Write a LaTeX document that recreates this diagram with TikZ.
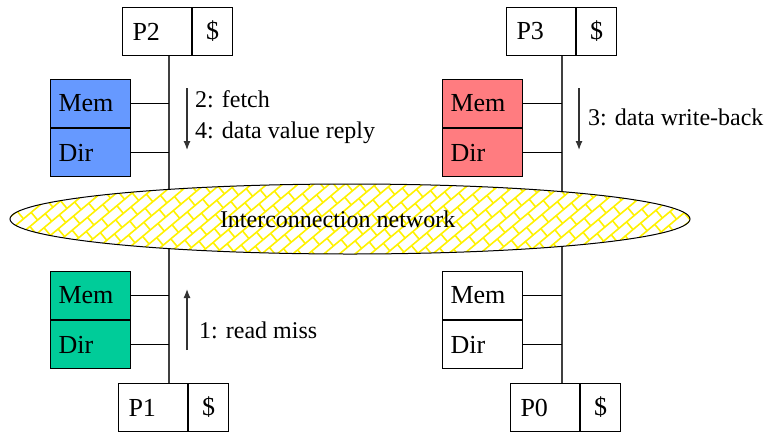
\documentclass[tikz,border=0pt]{standalone}
\usepackage{fontspec}
\setmainfont{Liberation Serif}
\usetikzlibrary{positioning}
\usetikzlibrary{arrows.meta}
\usetikzlibrary{shapes.geometric}
\definecolor{memblue}{HTML}{6699FF}
\definecolor{memred}{HTML}{FF7C80}
\definecolor{memgreen}{HTML}{00CC99}
\definecolor{busgray}{HTML}{404040}

\begin{document}
\begin{tikzpicture}[x=1pt,y=-1pt,
  box/.style={draw, line width=1pt, anchor=north west, minimum height=48pt,
    inner ysep=0pt, font=\fontsize{26}{30}\selectfont},
  membox/.style={box, text width=64pt, inner xsep=8pt, align=left},
  procbox/.style={box, text width=49pt, inner xsep=10pt, align=left},
  cachebox/.style={box, text width=40pt, inner xsep=0pt, align=center},
  bus/.style={draw=busgray, line width=1.5pt},
  link/.style={draw, line width=1pt},
  flow/.style={-{Latex[length=9pt,width=7pt]}, line width=1.2pt, black!80},
  lbl/.style={anchor=west, inner sep=0pt, font=\fontsize{24}{28}\selectfont},
  network/.style={ellipse, draw, line width=1pt,
    minimum width=680pt, minimum height=70pt, inner sep=0pt,
    font=\fontsize{24}{28}\selectfont},
]
\useasboundingbox (0,0) rectangle (765,432);

% processors with caches
\node[procbox] (p2) at (122,7) {P2};
\node[cachebox, right=0pt of p2] (c2) {\$};
\node[procbox] (p3) at (506,7) {P3};
\node[cachebox, right=0pt of p3] (c3) {\$};
\node[procbox] (p1) at (118,383) {P1};
\node[cachebox, right=0pt of p1] (c1) {\$};
\node[procbox] (p0) at (510,383) {P0};
\node[cachebox, right=0pt of p0] (c0) {\$};

% memories and directories
\node[membox, fill=memblue] (mem2) at (50,79) {Mem};
\node[membox, fill=memblue, below=0pt of mem2] (dir2) {Dir};
\node[membox, fill=memred] (mem3) at (442,79) {Mem};
\node[membox, fill=memred, below=0pt of mem3] (dir3) {Dir};
\node[membox, fill=memgreen] (mem1) at (50,271) {Mem};
\node[membox, fill=memgreen, below=0pt of mem1] (dir1) {Dir};
\node[membox] (mem0) at (442,271) {Mem};
\node[membox, below=0pt of mem0] (dir0) {Dir};

% buses
\coordinate (busL) at (169,0);
\coordinate (busR) at (562,0);
\draw[bus] (p2.south -| busL) -- (p1.north -| busL);
\draw[bus] (p3.south -| busR) -- (p0.north -| busR);
\foreach \m in {mem2,dir2,mem1,dir1}
  \draw[link] (\m.east) -- (\m.east -| busL);
\foreach \m in {mem3,dir3,mem0,dir0}
  \draw[link] (\m.east) -- (\m.east -| busR);

% network, brick pattern
\coordinate (netc) at (350,219);
\begin{scope}
  \clip (netc) ellipse [x radius=340pt, y radius=35pt];
  \fill[white] (netc) ellipse [x radius=340pt, y radius=35pt];
  \begin{scope}[shift={(netc)}, rotate=40, yellow, line width=1.6pt]
    \foreach \k in {-26,...,26} {
      \draw (-320pt,\k*10pt) -- (320pt,\k*10pt);
      \foreach \j in {-16,...,16}
        \draw ({\j*20pt+mod(\k,2)*10pt},\k*10pt) -- ({\j*20pt+mod(\k,2)*10pt},\k*10pt+10pt);
    }
  \end{scope}
\end{scope}
\node[network] (net) at (netc) {\makebox[260pt][l]{Interconnection network}};

% transactions
\coordinate (a2s) at (187,88);
\coordinate (a2e) at (187,150);
\coordinate (a3s) at (579,88);
\coordinate (a3e) at (579,150);
\coordinate (a1s) at (187,350);
\coordinate (a1e) at (187,289);
\draw[flow] (a2s) -- (a2e);
\draw[flow] (a3s) -- (a3e);
\draw[flow] (a1s) -- (a1e);
\node[lbl] (fetch) at (195,99) {2: fetch};
\node[lbl] (reply) at (195,133) {4: data value reply};
\node[lbl] (wback) at (588,117) {3: data write-back};
\node[lbl] (miss) at (199,330) {1: read miss};

\end{tikzpicture}
\end{document}
